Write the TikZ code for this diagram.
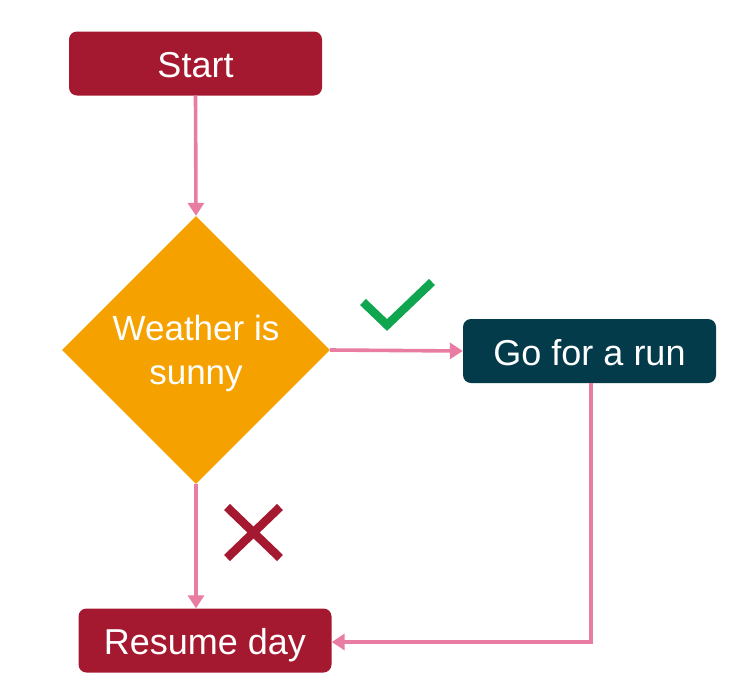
\documentclass[tikz,border=0pt]{standalone}
\usepackage{fontspec}
\setmainfont{Liberation Sans}
\usetikzlibrary{arrows.meta,shapes.geometric}
\definecolor{dred}{HTML}{A51930}
\definecolor{orng}{HTML}{F5A100}
\definecolor{tealc}{HTML}{043B4B}
\definecolor{pnk}{HTML}{E97CA2}
\definecolor{grn}{HTML}{10A650}
\tikzset{
  boxnode/.style={rounded corners=8pt, minimum width=253pt, minimum height=64pt, text=white, font=\fontsize{36}{43}\selectfont, inner sep=0pt, text height=28pt, text depth=0pt},
  conn/.style={draw=pnk, line width=3.6pt, -{Triangle[length=13pt,width=16pt]}},
  symline/.style={line width=8.5pt}
}
\begin{document}
\begin{tikzpicture}[x=1pt,y=-1pt]
\useasboundingbox (0,0) rectangle (743,699);
\node[boxnode, fill=dred] (start) at (195.5,63.5) {Start};
\node[diamond, fill=orng, minimum width=268pt, minimum height=268pt, inner sep=0pt] (dec) at (196,350) {};
\node[text=white, align=center, font=\fontsize{35}{44}\selectfont] (dectext) at (196,353) {Weather is\\sunny};
\node[boxnode, fill=tealc] (run) at (589.5,351) {Go for a run};
\node[boxnode, fill=dred] (res) at (205,640.5) {Resume day};
\coordinate (corner) at (591,642);
\draw[conn] (start.south) -- (dec.north);
\draw[conn] (dec.east) -- (run.west);
\draw[conn] (dec.south) -- (res.north -| dec.south);
\draw[conn] (run.south -| corner) -- (corner) -- (corner -| res.east);
\draw[grn, symline] (363,302) -- (387,325) -- (432,282);
\draw[dred, symline] (227,507) -- (280,558) (280,507) -- (227,558);
\end{tikzpicture}
\end{document}
